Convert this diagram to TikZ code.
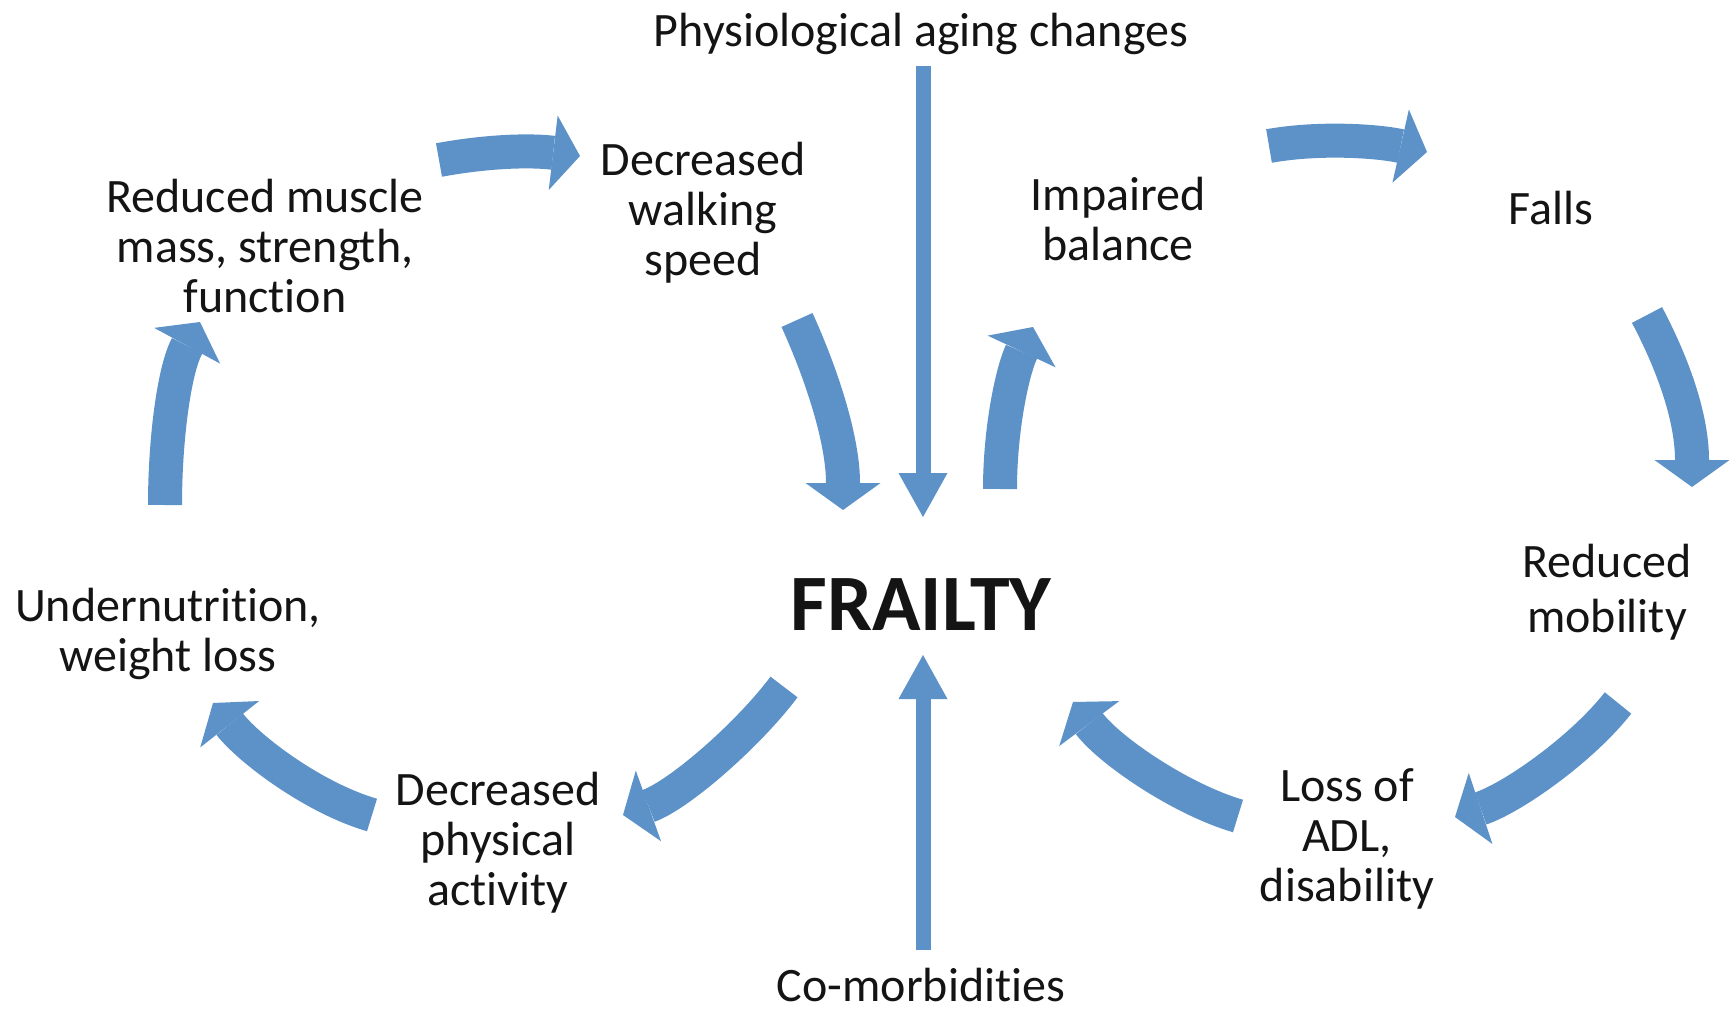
\documentclass[tikz,border=0pt]{standalone}
\usepackage{fontspec}
\setmainfont{Carlito}[Ligatures={NoCommon,NoDiscretionary,NoContextual}]
\usetikzlibrary{arrows.meta}
\definecolor{arrowblue}{RGB}{93,146,201}
\definecolor{textdark}{RGB}{20,20,20}
\begin{document}
\begin{tikzpicture}[x=1pt,y=-1pt,
  lbl/.style={font=\fontsize{48}{50}\selectfont, align=center, text=textdark, inner sep=0pt},
  bigarrow/.style={draw=arrowblue, line width=34pt, -{Triangle[width=75pt,length=27pt,line width=0pt]}},
  thinarrow/.style={draw=arrowblue, line width=15pt, -{Triangle[width=49pt,length=44pt,line width=0pt]}}]
\fill[white] (0,0) rectangle (1729,1016);
\useasboundingbox (0,0) rectangle (1729,1016);

% labels
\node[lbl] (aging) at (921,34) {Physiological aging changes};
\node[lbl] (muscle) at (265,246) {Reduced muscle\\mass, strength,\\function};
\node[lbl] (walking) at (703,213) {Decreased\\walking\\speed};
\node[lbl] (balance) at (1118,219) {Impaired\\balance};
\node[lbl] (falls) at (1551,208) {Falls};
\node[lbl] (mobility) at (1607,592) {Reduced\\[5pt]mobility};
\node[lbl] (nutrition) at (168,634) {Undernutrition,\\weight loss};
\node[lbl] (activity) at (498,843) {Decreased\\physical\\activity};
\node[lbl] (adl) at (1347,839) {Loss of\\ADL,\\disability};
\node[lbl] (comorb) at (921,985) {Co-morbidities};
\node[lbl, font=\fontsize{80}{82}\selectfont\bfseries] (frailty) at (921,605) {FRAILTY};

% arrow end points
\coordinate (a1s) at (439,160);  \coordinate (a1e) at (580,156);
\coordinate (a2s) at (797,320);  \coordinate (a2e) at (843,510);
\coordinate (a3s) at (923,66);   \coordinate (a3e) at (923,517);
\coordinate (a4s) at (1000,489); \coordinate (a4e) at (1033,327);
\coordinate (a5s) at (1269,146); \coordinate (a5e) at (1427,152);
\coordinate (a6s) at (1647,315); \coordinate (a6e) at (1692,487);
\coordinate (a7s) at (1618,703); \coordinate (a7e) at (1455,817);
\coordinate (a8s) at (1238,816); \coordinate (a8e) at (1073,702);
\coordinate (a9s) at (923,950);  \coordinate (a9e) at (923,655);
\coordinate (a10s) at (784,687); \coordinate (a10e) at (623,815);
\coordinate (a11s) at (372,815); \coordinate (a11e) at (213,703);
\coordinate (a12s) at (165,505); \coordinate (a12e) at (200,322);

% arrows
\draw[bigarrow] (a1s) .. controls (488,151) and (530,150) .. (a1e);
\draw[bigarrow] (a2s) .. controls (822,375) and (843,440) .. (a2e);
\draw[thinarrow] (a3s) -- (a3e);
\draw[bigarrow] (a4s) .. controls (1000,430) and (1012,372) .. (a4e);
\draw[bigarrow] (a5s) .. controls (1319,137) and (1378,141) .. (a5e);
\draw[bigarrow] (a6s) .. controls (1675,368) and (1692,420) .. (a6e);
\draw[bigarrow] (a7s) .. controls (1581,750) and (1512,798) .. (a7e);
\draw[bigarrow] (a8s) .. controls (1180,799) and (1109,750) .. (a8e);
\draw[thinarrow] (a9s) -- (a9e);
\draw[bigarrow] (a10s) .. controls (748,735) and (679,795) .. (a10e);
\draw[bigarrow] (a11s) .. controls (314,798) and (250,750) .. (a11e);
\draw[bigarrow] (a12s) .. controls (165,440) and (174,370) .. (a12e);
\end{tikzpicture}
\end{document}
